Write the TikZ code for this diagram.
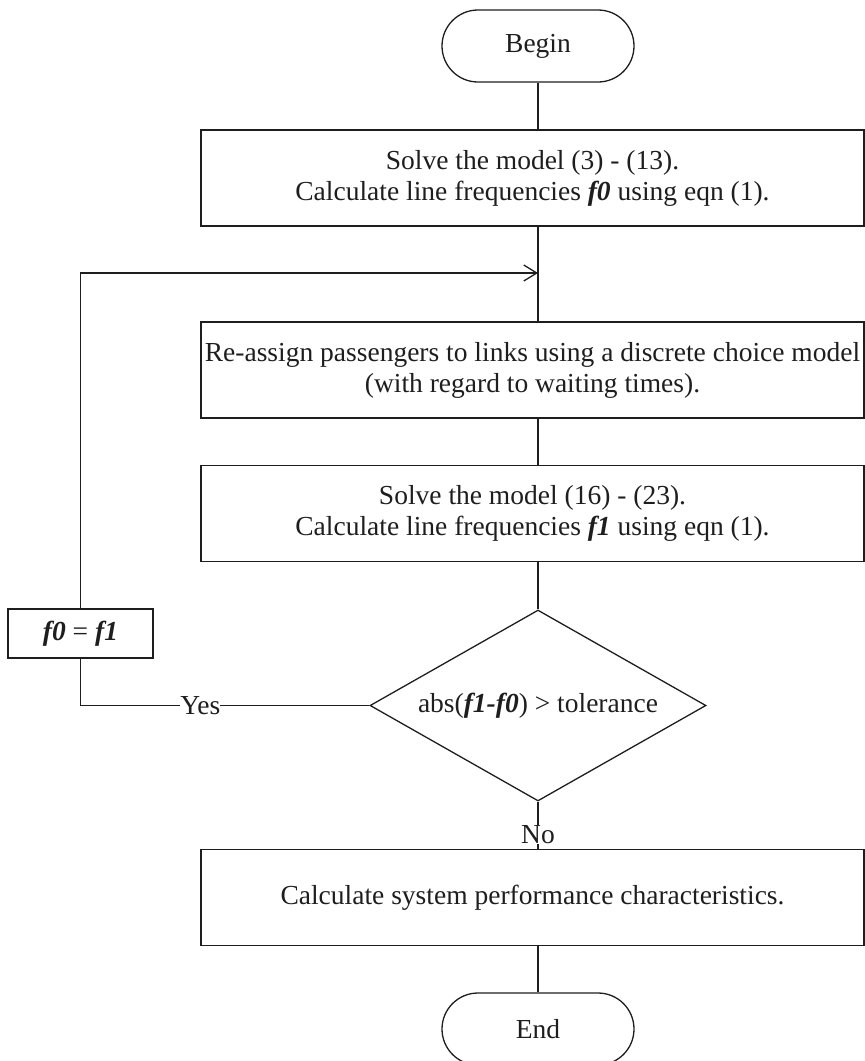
\documentclass[tikz,border=0pt]{standalone}
\usepackage{fontspec}
\setmainfont{Liberation Serif}
\usepackage{tikz}
\usetikzlibrary{shapes.geometric,arrows.meta,positioning,calc}
\definecolor{ink}{RGB}{30,30,30}
\newcommand{\fv}[1]{\textbf{\textit{#1}}}

\begin{document}
\begin{tikzpicture}[x=1pt,y=-1pt,line width=1.3pt,draw=ink,text=ink,
  font=\fontsize{27.5}{31}\selectfont,
  procbox/.style={draw=ink,minimum width=663pt,minimum height=96pt,align=center,inner sep=0pt},
  termbox/.style={draw=ink,rounded corners=36pt,minimum width=192pt,minimum height=72pt,inner sep=0pt},
  testbox/.style={draw=ink,diamond,aspect=1.76,minimum width=336pt,minimum height=191pt,inner sep=0pt},
  flow/.style={draw=ink,line width=1.3pt}]
\useasboundingbox (0,0) rectangle (865,1061);
\node[termbox] (begin) at (538,46) {Begin};
\node[procbox] (solve0) at (532.5,178) {Solve the model (3) - (13).\\Calculate line frequencies \fv{f0} using eqn (1).};
\node[procbox] (assign) at (532.5,370) {Re-assign passengers to links using a discrete choice model\\(with regard to waiting times).};
\node[procbox] (solve1) at (532.5,513.5) {Solve the model (16) - (23).\\Calculate line frequencies \fv{f1} using eqn (1).};
\node[testbox] (test) at (538,705.5) {abs(\fv{f1-f0}) > tolerance};
\node[procbox] (perf) at (532.5,897.5) {Calculate system performance characteristics.};
\node[termbox] (end) at (538,1029) {End};
\node[draw=ink,minimum width=145pt,minimum height=49pt,inner sep=0pt] (swap) at (80.5,633.5) {\fv{f0} = \fv{f1}};
\coordinate (join) at (538,273);
\coordinate (low) at (swap.south |- test.west);
% main line
\draw[flow] (begin.south) -- (begin.south |- solve0.north);
\draw[flow] (begin.south |- solve0.south) -- (begin.south |- assign.north);
\draw[flow] (begin.south |- assign.south) -- (begin.south |- solve1.north);
\draw[flow] (begin.south |- solve1.south) -- (test.north);
\draw[flow] (test.south) -- node[pos=0.7,fill=white,inner sep=0.5pt]{No} (begin.south |- perf.north);
\draw[flow] (begin.south |- perf.south) -- (end.north);
% loop back
\draw[flow] (test.west) -- node[pos=0.585,fill=white,inner sep=0pt]{Yes} (low) -- (swap.south);
\draw[flow,-{Straight Barb[length=13pt,width=16pt,line width=1.3pt]}] (swap.north) |- (join);
\end{tikzpicture}
\end{document}
